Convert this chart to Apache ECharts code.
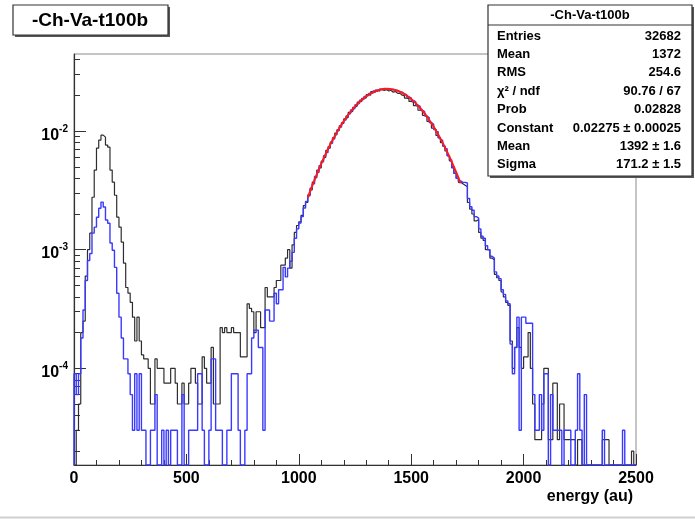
<!DOCTYPE html>
<html>
<head>
<meta charset="utf-8">
<script src="https://cdn.jsdelivr.net/npm/echarts@6/dist/echarts.min.js"></script>
<style>
    html, body { margin: 0; padding: 0; background: #fff; }
    #main { width: 695px; height: 520px; }
</style>
</head>
<body>
<div id="main"></div>
<script type="text/javascript">
    // 250 bins of 10 au, from 0 to 2500
    var binWidth = 10;
    // bin contents, in units of 1e-5 (0 = empty bin)
    var blackE5 = [
        0,3,5,20,25,60,100,138,277,469,
        719,840,925,890,762,732,469,371,288,188,
        155,116,77,48,43,36,27,17,27,17,
        13,12,12,10,5,5,12,10,10,10,
        7.5,7.5,7.5,10,10,7.5,5,5,7.5,5,
        5,7.5,10,10,7.5,5,5,12.5,10,7.5,
        7.5,15,5,5,5,22,20,22,20,20,
        22,20,20,20,12.5,12.5,12.5,35,32,30,
        20,30,30,22,22,48,40,40,40,48,
        55,55,74,74,85,100,70,110,140,160,
        172,195,235,250,290,320,372,405,470,490,
        560,600,690,720,810,860,960,1010,1110,1160,
        1270,1310,1440,1470,1590,1630,1760,1780,1890,1910,
        2030,2010,2150,2120,2220,2170,2260,2200,2240,2180,
        2210,2130,2160,2080,2080,2010,1990,1900,1880,1780,
        1750,1640,1620,1500,1480,1360,1330,1210,1180,1060,
        1030,920,880,800,750,680,620,560,490,440,
        400,370,360,350,340,250,220,200,175,180,
        140,125,120,100,100,85,82,62,58,55,
        44,40,36,34,17,10,15,22,15,10,
        12.5,12.5,20,10,5,2.5,2.5,2.5,5,10,
        10,2.5,2.5,7.5,7.5,2.5,5,5,2.5,2.5,
        2.5,2.5,2.5,0,2.5,2.5,0,0,0,0,
        0,0,0,0,0,2.5,2.5,2.5,0,0,
        0,0,0,0,0,0,0,0,2,0
    ];
    var blueE5 = [
        9,6,9,18,31,55,81,93,138,155,
        188,224,252,229,178,167,114,99,71,43,
        27,18,12,12,9,6,3,9,3,9,
        3,3,0,0,3,3,6,0,0,3,
        0,3,0,3,3,3,0,0,6,0,
        0,3,3,3,3,9,9,3,0,0,
        3,12,12,3,3,3,0,0,3,3,
        9,9,9,3,0,0,3,9,9,18,
        21,21,15,15,3,31,31,25,25,43,
        35,46,46,71,59,70,80,95,125,150,
        168,190,225,255,285,330,360,415,450,510,
        550,620,660,740,790,880,930,1030,1080,1180,
        1240,1340,1400,1510,1560,1670,1720,1820,1860,1960,
        1990,2080,2090,2180,2170,2250,2230,2290,2250,2280,
        2240,2250,2200,2200,2140,2130,2060,2030,1940,1910,
        1810,1770,1660,1620,1500,1460,1340,1300,1180,1140,
        1030,990,880,840,750,710,620,570,500,440,
        400,380,370,370,365,270,230,215,190,185,
        150,130,125,108,100,88,85,65,60,57,
        46,42,37,35,16,9,15,27,3,27,
        27,24,24,24,6,3,3,6,3,9,
        9,0,6,3,3,3,3,0,3,3,
        3,0,0,3,9,3,0,6,0,0,
        0,0,0,0,0,3,0,0,0,0,
        0,0,0,0,3,0,0,0,0,0
    ];
    // gaussian fit curve, read at these energies (units of 1e-5)
    var fitX   = [1040,1080,1120,1160,1200,1240,1280,1320,1360,1392,1420,1460,1500,1540,1580,1620,1660,1700,1720];
    var fitE5  = [275,432,644,908,1213,1534,1837,2083,2236,2275,2245,2102,1865,1566,1245,937,668,451,363];

    var yMajorTicks = [1e-4, 1e-3, 1e-2];
    var yMinorTicks = [2e-5,3e-5,4e-5,5e-5,6e-5,7e-5,8e-5,9e-5,
                       2e-4,3e-4,4e-4,5e-4,6e-4,7e-4,8e-4,9e-4,
                       2e-3,3e-3,4e-3,5e-3,6e-3,7e-3,8e-3,9e-3,
                       2e-2,3e-2,4e-2];

    var histTitle = '-Ch-Va-t100b';
    var statsLabels = ['Entries', 'Mean', 'RMS', 'χ² / ndf', 'Prob', 'Constant', 'Mean', 'Sigma'];
    var statsValues = ['32682', '1372', '254.6', '90.76 / 67', '0.02828', '0.02275 ± 0.00025', '1392 ± 1.6', '171.2 ± 1.5'];

    var Y_MIN = 1.53e-5, Y_MAX = 0.0447;
    var FONT = '"Liberation Sans", Arial, sans-serif';

    // histogram -> step points (empty bins drop to the bottom of the frame)
    function toSteps(vals){
        var pts = [[0, Y_MIN]];
        for (var i = 0; i < vals.length; i++) {
            var v = vals[i] > 0 ? vals[i] * 1e-5 : Y_MIN;
            pts.push([i * binWidth, v]);
        }
        pts.push([vals.length * binWidth, pts[pts.length - 1][1]]);
        return pts;
    }
    var fitData = [];
    for (var i = 0; i < fitX.length; i++) fitData.push([fitX[i], fitE5[i] * 1e-5]);

    // stats box texts
    var statsGraphic = [];
    var boxL = 488, boxT = 5, boxW = 204, boxH = 171;
    statsGraphic.push({ type: 'rect', shape: { x: boxL + 2, y: boxT + 2, width: boxW, height: boxH }, style: { fill: '#555' }, z: 100 });
    statsGraphic.push({ type: 'rect', shape: { x: boxL, y: boxT, width: boxW, height: boxH }, style: { fill: '#fff', stroke: '#333', lineWidth: 1.2 }, z: 101 });
    statsGraphic.push({ type: 'line', shape: { x1: boxL, y1: 25, x2: boxL + boxW, y2: 25 }, style: { stroke: '#333', lineWidth: 1 }, z: 102 });
    statsGraphic.push({ type: 'text', x: boxL + boxW / 2, y: 15, z: 102,
        style: { text: histTitle, font: 'bold 13px ' + FONT, fill: '#000', align: 'center', verticalAlign: 'middle' } });
    for (var r = 0; r < statsLabels.length; r++) {
        var cy = 36 + r * 18.4;
        statsGraphic.push({ type: 'text', x: 497, y: cy, z: 102,
            style: { text: statsLabels[r], font: 'bold 13px ' + FONT, fill: '#000', align: 'left', verticalAlign: 'middle' } });
        statsGraphic.push({ type: 'text', x: 681, y: cy, z: 102,
            style: { text: statsValues[r], font: 'bold 13px ' + FONT, fill: '#000', align: 'right', verticalAlign: 'middle' } });
    }

    var myChart = echarts.init(document.getElementById('main'));
    var option = {
        animation: false,
        backgroundColor: '#fff',
        grid: { left: 74, top: 54, right: 59, bottom: 55, show: true, borderColor: '#8a8a8a', borderWidth: 1 },
        xAxis: {
            type: 'value', min: 0, max: 2500, interval: 500,
            axisLine: { lineStyle: { color: '#333', width: 1.2 } },
            axisTick: { inside: true, length: 11, lineStyle: { color: '#333' } },
            minorTick: { show: true, splitNumber: 5, length: 5, lineStyle: { color: '#333' } },
            splitLine: { show: false },
            axisLabel: {
                margin: 6, color: '#000', fontSize: 16, fontWeight: 'bold', fontFamily: FONT,
                formatter: function (v) { return String(v); }
            }
        },
        yAxis: [
            {
                type: 'log', min: Y_MIN, max: Y_MAX,
                axisLine: { show: true, lineStyle: { color: '#333', width: 1.2 } },
                axisTick: { show: true, inside: true, length: 12, customValues: yMajorTicks, lineStyle: { color: '#333' } },
                splitLine: { show: false },
                axisLabel: {
                    customValues: yMajorTicks, margin: 6,
                    formatter: function (v) { return '{b|10}{s|' + Math.round(Math.log10(v)) + '}'; },
                    rich: {
                        b: { fontSize: 16, fontWeight: 'bold', fontFamily: FONT, color: '#000', padding: [8, 0, 0, 0] },
                        s: { fontSize: 10, fontWeight: 'bold', fontFamily: FONT, color: '#000', padding: [0, 0, 4, 0] }
                    }
                }
            },
            {
                type: 'log', min: Y_MIN, max: Y_MAX, position: 'left',
                axisLine: { show: false },
                axisTick: { show: true, inside: true, length: 6, customValues: yMinorTicks, lineStyle: { color: '#333' } },
                axisLabel: { show: false },
                splitLine: { show: false }
            }
        ],
        series: [
            {
                type: 'line', step: 'end', data: toSteps(blackE5), showSymbol: false,
                lineStyle: { color: '#2e2e2e', width: 1.2 }, z: 3
            },
            {
                type: 'line', step: 'end', data: toSteps(blueE5), showSymbol: false,
                lineStyle: { color: '#3a3aff', width: 1.4 }, z: 4
            },
            {
                type: 'line', smooth: true, data: fitData, showSymbol: false,
                lineStyle: { color: '#ff1a1a', width: 2 }, z: 5
            }
        ],
        graphic: [
            { type: 'rect', shape: { x: 15, y: 7, width: 155, height: 30 }, style: { fill: '#555' }, z: 100 },
            { type: 'rect', shape: { x: 13, y: 5, width: 155, height: 30 }, style: { fill: '#fff', stroke: '#333', lineWidth: 1.2 }, z: 101 },
            { type: 'text', x: 90, y: 21, z: 102,
              style: { text: histTitle, font: 'bold 19px ' + FONT, fill: '#000', align: 'center', verticalAlign: 'middle' } },
            { type: 'text', x: 633, y: 497, z: 102,
              style: { text: 'energy (au)', font: 'bold 16px ' + FONT, fill: '#000', align: 'right', verticalAlign: 'middle' } },
            { type: 'line', shape: { x1: 0, y1: 517.5, x2: 695, y2: 517.5 }, style: { stroke: '#cfcfcf', lineWidth: 2 }, z: 1 }
        ].concat(statsGraphic)
    };
    myChart.setOption(option);
</script>
</body>
</html>
